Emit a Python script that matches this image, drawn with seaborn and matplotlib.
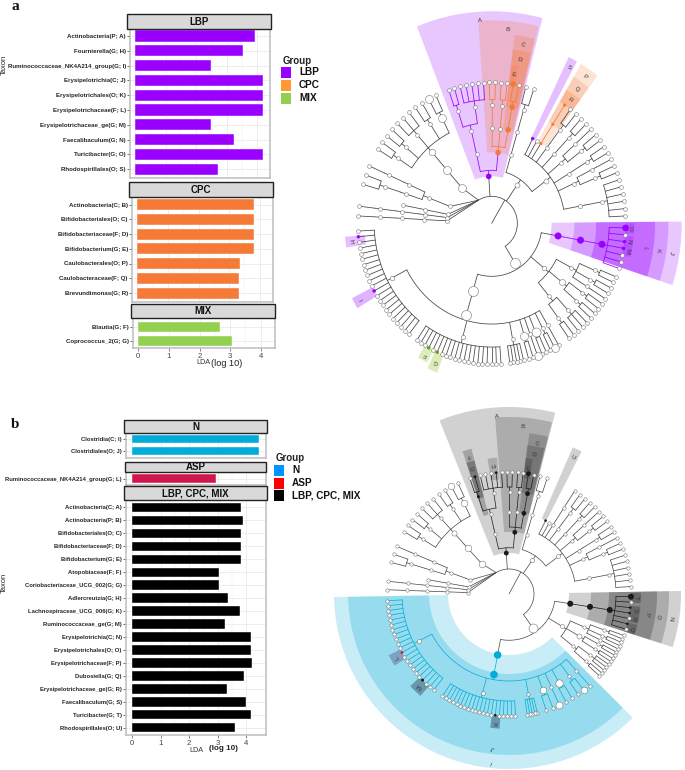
import numpy as np
import pandas as pd
import seaborn as sns
import matplotlib.pyplot as plt
from matplotlib.patches import Rectangle

W, H = 685, 770

# bar values
lbp_taxa = ['Actinobacteria(P; A)', 'Fournierella(G; H)', 'Ruminococcaceae_NK4A214_group(G; I)',
            'Erysipelotrichia(C; J)', 'Erysipelotrichales(O; K)', 'Erysipelotrichaceae(F; L)',
            'Erysipelotrichaceae_ge(G; M)', 'Faecalibaculum(G; N)', 'Turicibacter(G; O)', 'Rhodospirillales(O; S)']
lbp_lda = [3.92, 3.52, 2.48, 4.19, 4.19, 4.19, 2.49, 3.25, 4.19, 2.71]
cpc_taxa = ['Actinobacteria(C; B)', 'Bifidobacteriales(O; C)', 'Bifidobacteriaceae(F; D)', 'Bifidobacterium(G; E)',
            'Caulobacterales(O; P)', 'Caulobacteraceae(F; Q)', 'Brevundimonas(G; R)']
cpc_lda = [3.80, 3.80, 3.80, 3.80, 3.35, 3.32, 3.32]
mix_taxa = ['Blautia(G; F)', 'Coprococcus_2(G; G)']
mix_lda = [2.67, 3.07]
n_taxa = ['Clostridia(C; I)', 'Clostridiales(O; J)']
n_lda = [4.46, 4.46]
asp_taxa = ['Ruminococcaceae_NK4A214_group(G; L)']
asp_lda = [2.92]
all_taxa = ['Actinobacteria(C; A)', 'Actinobacteria(P; B)', 'Bifidobacteriales(O; C)', 'Bifidobacteriaceae(F; D)',
            'Bifidobacterium(G; E)', 'Atopobiaceae(F; F)', 'Coriobacteriaceae_UCG_002(G; G)', 'Adlercreutzia(G; H)',
            'Lachnospiraceae_UCG_006(G; K)', 'Ruminococcaceae_ge(G; M)', 'Erysipelotrichia(C; N)',
            'Erysipelotrichales(O; O)', 'Erysipelotrichaceae(F; P)', 'Dubosiella(G; Q)',
            'Erysipelotrichaceae_ge(G; R)', 'Faecalibaculum(G; S)', 'Turicibacter(G; T)', 'Rhodospirillales(O; U)']
all_lda = [3.81, 3.88, 3.81, 3.82, 3.82, 3.04, 3.04, 3.36, 3.77, 3.27, 4.18, 4.18, 4.19, 3.93, 3.31, 3.98, 4.18, 3.59]

PURPLE, ORANGE, GREEN = '#9900ff', '#f47a36', '#8fc31f'
BLUE, CRIMSON = '#00acd9', '#d0174d'


def n(*kids, tag=None, span=None, group=False):
    out = []
    for k in kids:
        if isinstance(k, int):
            out += [{'kids': [], 'tag': None, 'span': None, 'group': False} for _ in range(k)]
        else:
            out.append(k)
    return {'kids': out, 'tag': tag, 'span': span, 'group': group}


def comb(count, marks, span):
    return n(*[n(tag=marks[i]) if i in marks else 1 for i in range(count)], span=span, tag=span)


# one taxonomy for both cladograms: phylum / class / order / family / genus
tree = n(
    n(n(n(n(1))), span='p1'),
    n(n(n(n(1))), span='p2'),
    n(n(n()), span='p3'),
    n(n(n(n(2)), n(n(1))), span='p4'),
    n(n(n(n(2), n(2), n(3), n(2), n(n(tag='bg'), 1, tag='bf'), tag='bo'), tag='bc'), tag='bp', span='bact'),
    n(
        n(n(n(1, n(tag='gG'), tag='fF'), n(3, n(tag='gH'), 1), tag='oF'), tag='cA'),
        n(n(n(2)), n(n(2)), n(n(n(tag='gE'), 1, tag='fD'), tag='oC'), tag='cB'),
        tag='pA', span='acti'),
    n(
        n(n(n(2)), span='r1'),
        n(n(tag='oS'), n(), n(n(n(tag='gR'), tag='fQ'), tag='oP'), n(n(2)), n(n(2)), n(n(1), n(2)), n(n(2)),
          n(n(1), n(2)), n(n(6), tag='or'), tag='cr', span='r2'),
        tag='pr'),
    n(
        n(n(n(n(tag='e1'), 1, n(tag='e3'), n(tag='e4'), 1, n(tag='e6'), 1, tag='fL'), tag='oK'), tag='cJ', span='ery'),
        n(n(n(2), n(2), n(1)), n(n(2), n(2), tag='ob'), n(n(3), n(2)), tag='cb', span='bac'),
        n(n(n(n(1), n(n(tag='wb1'), 1), n(2, tag='w2'), n(n(tag='wb2')), n(2, tag='w3'), group=True, span='c4'),
            n(5, span='c3'),
            comb(20, {5: 'k', 14: 'g', 16: 'f'}, 'c2'),
            comb(22, {3: 'm', 10: 'i', 20: 'h'}, 'c1'),
            tag='oJ'), tag='cI'),
        tag='pF'),
)

# leaf angle spans, degrees clockwise from north
spans_a = {'p1': (-87, -87), 'p2': (-83, -83), 'p3': (-79, -79), 'p4': (-76, -64), 'bact': (-60, -23),
           'acti': (-20, 13), 'r1': (13, 20), 'r2': (25.5, 88.5), 'ery': (90.5, 110), 'bac': (111, 146),
           'c4': (149, 165), 'c3': (165.5, 173), 'c2': (175, 215), 'c1': (217, 268)}
spans_b = {'p1': (-88, -88), 'p2': (-84, -84), 'p3': (-80, -80), 'p4': (-77, -65), 'bact': (-61, -23),
           'acti': (-20, 13), 'r1': (13, 20), 'r2': (25, 88), 'ery': (90, 108), 'bac': (109, 133),
           'c4': (137, 164), 'c3': (166, 172), 'c2': (176, 214), 'c1': (217, 268)}

# sizes of unhighlighted big nodes (px radius)
white_a = {'bp': 4, 'bc': 4, 'bo': 3.3, 'bf': 4, 'bg': 4, 'cr': 2.5, 'or': 2.1, 'pF': 5, 'cI': 5, 'oJ': 5, 'cb': 2.3,
           'ob': 3, 'wb1': 4, 'w2': 4.5, 'wb2': 4, 'w3': 4, 'c1': 2.3, 'c2': 2.2, 'pr': 2.5}
white_b = {'bp': 3.3, 'bc': 3.3, 'bo': 2.6, 'bf': 3.3, 'bg': 3.3, 'cr': 2, 'or': 1.9, 'pF': 4.5, 'cb': 2,
           'ob': 2.5, 'wb1': 3.3, 'w2': 3.7, 'wb2': 3.5, 'w3': 3.3, 'c1': 2, 'c2': 1.9, 'pr': 2.2}
hits_a = {'pA': (PURPLE, 2.8), 'cB': (ORANGE, 2.8), 'oC': (ORANGE, 2.8), 'fD': (ORANGE, 2.8), 'gE': (ORANGE, 2.8),
          'cJ': (PURPLE, 3.5), 'oK': (PURPLE, 3.5), 'fL': (PURPLE, 3.5), 'e1': (PURPLE, 3.3), 'e3': (PURPLE, 1.8),
          'e4': (PURPLE, 1.8), 'oS': (PURPLE, 1.7), 'oP': (ORANGE, 1.6), 'fQ': (ORANGE, 1.6), 'gR': (ORANGE, 1.6),
          'h': (PURPLE, 1.7), 'i': (PURPLE, 1.8), 'f': ('#6a9a1f', 1.8), 'g': ('#6a9a1f', 1.8)}
hits_b = {'pA': ('k', 2.4), 'cB': ('k', 2.4), 'oC': ('k', 2.4), 'fD': ('k', 2.4), 'gE': ('k', 2.4), 'fF': ('k', 1.5),
          'gG': ('k', 1.5), 'gH': ('k', 1.4), 'cJ': ('k', 3), 'oK': ('k', 3), 'fL': ('k', 3), 'e1': ('k', 3),
          'e3': ('k', 1.3), 'e4': ('k', 1.3), 'e6': ('k', 1.3), 'oS': ('k', 1.3), 'k': ('k', 1.3), 'm': ('k', 1.5),
          'i': (CRIMSON, 1.4), 'cI': (BLUE, 3.8), 'oJ': (BLUE, 3.8)}

# wedge tables: label, first angle, last angle, inner r, outer r
wedges_a = [('A', -21.8, 14.6, 47, 212), ('B', -4, 14, 71, 203), ('C', 7.3, 13.8, 95, 190), ('D', 7.3, 13.6, 118, 175),
            ('E', 7.8, 10.2, 141, 160), ('S', 26, 29, 95, 185), ('P', 30.5, 37, 95, 185), ('Q', 30.5, 37, 118, 170),
            ('R', 30.5, 37, 141, 155), ('J', 89.5, 108, 63, 200), ('K', 89.5, 108, 87, 186), ('L', 89.5, 108, 110, 172),
            ('O', 90, 94, 141, 150), ('N', 95, 99, 141, 150), ('M', 99, 103, 141, 150), ('H', 261, 265, 134, 155),
            ('I', 239, 243, 141, 165), ('F', 206, 210, 141, 155), ('G', 201, 205, 141, 160)]
colors_a = [PURPLE, ORANGE, ORANGE, ORANGE, ORANGE, PURPLE, ORANGE, ORANGE, ORANGE, PURPLE, PURPLE, PURPLE,
            PURPLE, PURPLE, PURPLE, PURPLE, PURPLE, GREEN, GREEN]
alphas_a = [.22, .25, .25, .28, .25, .25, .2, .2, .25, .22, .22, .3, .25, .25, .25, .25, .3, .3, .3]
wedges_b = [('A', -21.8, 14.3, 41, 187), ('B', -4.5, 14, 62, 177), ('C', 7.2, 14, 82, 162), ('D', 7, 13.6, 102, 150),
            ('E', 7, 10, 117, 137), ('F', -18, -14.5, 82, 150), ('G', -18, -14.5, 100, 138), ('H', -9, -5, 115, 137),
            ('U', 23.5, 27, 82, 160), ('N', 89, 108, 60, 172), ('O', 89, 108, 82, 160), ('P', 89, 108, 100, 148),
            ('T', 89.5, 94, 122, 132), ('S', 95.5, 99.5, 122, 132), ('R', 99.5, 103, 122, 132), ('Q', 103.5, 108, 122, 132),
            ('I', 135, 269, 61, 175), ('J', 135, 269, 80, 161), ('K', 184, 188, 122, 135), ('M', 221, 227, 122, 135),
            ('L', 238, 243, 122, 135)]
colors_b = ['k'] * 16 + [BLUE, BLUE, '#4a6a80', '#4a6a80', '#6a6a90']
alphas_b = [.2, .2, .2, .2, .22, .25, .3, .2, .2, .2, .2, .25, .3, .3, .3, .3, .21, .25, .6, .6, .5]

LBP_C, CPC_C, MIX_C = PURPLE, '#ff9933', '#92d050'

sns.set_theme(style='whitegrid')
plt.rcParams['font.family'] = ['Liberation Sans', 'DejaVu Sans']
fig = plt.figure(figsize=(W / 100, H / 100), dpi=100)

over = fig.add_axes([0, 0, 1, 1], zorder=5)
over.set_xlim(0, W)
over.set_ylim(H, 0)
over.axis('off')
over.patch.set_alpha(0)


def bar_panel(taxa, values, color, box, strip, title, x0, per_unit, centre0, step, bar_h, show_x=False, tick_fs=4.4):
    left, top, right, bottom = box
    ax = fig.add_axes([left / W, 1 - bottom / H, (right - left) / W, (bottom - top) / H])
    df = pd.DataFrame({'taxon': taxa, 'lda': values})
    sns.barplot(data=df, y='taxon', x='lda', color=color, saturation=1, width=bar_h / step, ax=ax,
                edgecolor='white', linewidth=0.3)
    ax.set_xlim((left - x0) / per_unit, (right - x0) / per_unit)
    ax.set_ylim((bottom - centre0) / step, (top - centre0) / step)
    ax.set_xlabel('')
    ax.set_ylabel('')
    ax.set_xticks([0, 1, 2, 3, 4])
    ax.set_xticks([.5, 1.5, 2.5, 3.5], minor=True)
    ax.grid(True, which='major', color='#e6e6e6', linewidth=0.5)
    ax.grid(True, which='minor', axis='x', color='#efefef', linewidth=0.35)
    ax.set_axisbelow(True)
    for s in ax.spines.values():
        s.set_color('#bdbdbd')
        s.set_linewidth(1.1)
    ax.tick_params(axis='y', which='major', left=True, length=2, width=0.5, color='#333333', pad=1, labelsize=tick_fs,
                   labelcolor='#262626')
    for t in ax.get_yticklabels():
        t.set_fontweight('bold')
    if show_x:
        ax.tick_params(axis='x', which='major', bottom=True, length=2, width=0.5, color='#555555', pad=1.5,
                       labelsize=5.6, labelcolor='#444444')
    else:
        ax.tick_params(axis='x', which='both', bottom=False, labelbottom=False)
    sl, st, sr, sb = strip
    over.add_patch(Rectangle((sl, st), sr - sl, sb - st, fc='#d9d9d9', ec='#222222', lw=1))
    over.text((sl + sr) / 2, (st + sb) / 2 + 0.3, title, ha='center', va='center', fontsize=7, fontweight='bold',
              color='#111111')


bar_panel(lbp_taxa, lbp_lda, LBP_C, (130, 29, 270, 178), (127, 14, 271, 29), 'LBP', 135, 30.6, 36, 14.8, 11.3)
bar_panel(cpc_taxa, cpc_lda, ORANGE, (132, 197, 272.7, 302), (129, 182, 273, 197), 'CPC', 137.3, 30.6, 204.5, 14.75, 11)
bar_panel(mix_taxa, mix_lda, MIX_C, (133, 318, 275, 348), (131, 304, 275, 318), 'MIX', 138.3, 30.6, 327, 14, 10, True)
bar_panel(n_taxa, n_lda, BLUE, (126, 432.7, 266, 458), (124, 420, 267, 432.7), 'N', 132.3, 28.5, 439, 12, 8.7, tick_fs=4.2)
bar_panel(asp_taxa, asp_lda, CRIMSON, (126, 472.3, 266, 485), (125, 461.7, 266, 472.3), 'ASP', 132.3, 28.5, 478.7, 12, 9.3, tick_fs=4.2)
bar_panel(all_taxa, all_lda, 'black', (126, 500, 266, 735), (124, 486.3, 267, 500), 'LBP, CPC, MIX', 132.3, 28.5, 507.3, 12.97, 9.3, True, tick_fs=4.2)

over.text(4.5, 65, 'Taxon', rotation=90, ha='center', va='center', fontsize=5.4, color='#222222')
over.text(4.5, 583, 'Taxon', rotation=90, ha='center', va='center', fontsize=5.4, color='#222222')
over.text(203, 363, 'LDA', ha='center', va='center', fontsize=5.2, color='#333333')
over.text(226.5, 363, '(log 10)', ha='center', va='center', fontsize=6.6, color='#222222')
over.text(196, 750, 'LDA', ha='center', va='center', fontsize=5.2, color='#333333')
over.text(223, 749, '(log 10)', ha='center', va='center', fontsize=5.8, fontweight='bold', color='#222222')
over.text(15, 6, 'a', family=['Liberation Serif'], fontsize=11, fontweight='bold', ha='center', va='center', color='#111111')
over.text(15, 425, 'b', family=['Liberation Serif'], fontsize=11, fontweight='bold', ha='center', va='center', color='#111111')


def legend(title, tx, ty, names, colors, x, ys, lx, h, fs):
    over.text(tx, ty, title, ha='center', va='center', fontsize=7, fontweight='bold', color='#222222')
    for name, col, y in zip(names, colors, ys):
        over.add_patch(Rectangle((x, y), 10.5, h, fc=col, ec='none'))
        over.text(lx, y + h / 2, name, ha='left', va='center', fontsize=fs, fontweight='bold', color='#111111')


legend('Group', 297, 60.7, ['LBP', 'CPC', 'MIX'], [LBP_C, CPC_C, MIX_C], 281, [67, 80, 93], 299, 10.5, 7.2)
legend('Group', 290, 458, ['N', 'ASP', 'LBP, CPC, MIX'], ['#0096ff', '#ff0000', 'black'], 274, [465, 478, 490], 292, 10.5, 7.2)


def flat(node):
    out = []
    for k in node['kids']:
        out += flat(k) if k['group'] else [k]
    return out


def leaves(node):
    return max(1, sum(leaves(k) for k in node['kids']))


def place(node, lo, hi, spans):
    if node['span']:
        lo, hi = spans[node['span']]
    if not node['kids']:
        node['a'] = (lo + hi) / 2
        return
    step = (hi - lo) / leaves(node)
    at = lo
    for k in node['kids']:
        c = leaves(k)
        place(k, at, at + step * c, spans)
        at += step * c
    angles = [k['a'] for k in flat(node)]
    node['a'] = (min(angles) + max(angles)) / 2


def cladogram(cx, cy, xs, levels, root_arc, arc_lo, wedges, w_colors, w_alphas, spans, hits, whites, lw, leaf_r):
    def xy(r, a):
        t = np.radians(a)
        return cx + xs * r * np.sin(t), cy - r * np.cos(t)

    for (lab, a0, a1, r0, r1), col, alpha in zip(wedges, w_colors, w_alphas):
        ts = np.linspace(a0, a1, 60)
        ox, oy = xy(r1, ts)
        ix, iy = xy(r0, ts[::-1])
        over.fill(np.r_[ox, ix], np.r_[oy, iy], color=col, alpha=alpha, lw=0, zorder=1)
        tx, ty = xy(r1 - 9 if r1 - r0 > 20 else (r0 + r1) / 2, (a0 + a1) / 2)
        if lab in 'IJ' and a1 - a0 > 100:
            tx, ty = xy(r1 - 6, 186)
        over.text(tx, ty, lab, rotation=-(a0 + a1) / 2, rotation_mode='anchor', ha='center', va='center',
                  fontsize=4.3, color='#333333', zorder=4)

    place(tree, -90, 270, spans)
    pts = []

    def walk(node, depth, colour):
        tag = node['tag']
        own = colour
        if tag in hits:
            own = hits[tag][0]
            pts.append((*xy(levels[depth], node['a']), hits[tag][0], hits[tag][1], 'none'))
        elif depth > 0:
            pts.append((*xy(levels[depth], node['a']), 'white', whites.get(tag, leaf_r), '#777777'))
        kids = flat(node)
        if kids:
            arc_r = root_arc if depth == 0 else levels[depth] + 0.25 * (levels[depth + 1] - levels[depth])
            angles = [k['a'] for k in kids]
            lo, hi = min(angles), max(angles)
            if depth == 0:
                lo = arc_lo
            line = '#444444' if own is None else own
            if lo != hi:
                ts = np.linspace(lo, hi, 80)
                over.plot(*xy(arc_r, ts), color=line, lw=lw, zorder=2)
            sx, sy = xy(levels[depth], node['a'])
            mx, my = xy(arc_r, node['a'])
            over.plot([sx, mx], [sy, my], color=line, lw=lw, zorder=2)
            for k in kids:
                kx, ky = xy(levels[depth + 1], k['a'])
                bx, by = xy(arc_r, max(k['a'], lo))
                over.plot([bx, kx], [by, ky], color=line, lw=lw, zorder=2)
                walk(k, depth + 1, own)

    walk(tree, 0, None)
    for x, y, fc, r, ec in pts:
        over.scatter([x], [y], s=(2 * r * 0.72) ** 2, c=[fc], edgecolors=ec, linewidths=0.4, zorder=3)


cladogram(491.7, 223.3, 0.95, [0, 47, 71, 95, 118, 141], 27, -31, wedges_a, colors_a, alphas_a, spans_a, hits_a, white_a, 0.55, 1.9)
cladogram(509, 594, 1.0, [0, 41, 62, 82, 102, 122], 25, -31, wedges_b, colors_b, alphas_b, spans_b, hits_b, white_b, 0.5, 1.7)

fig.savefig('out.png', dpi=100)
